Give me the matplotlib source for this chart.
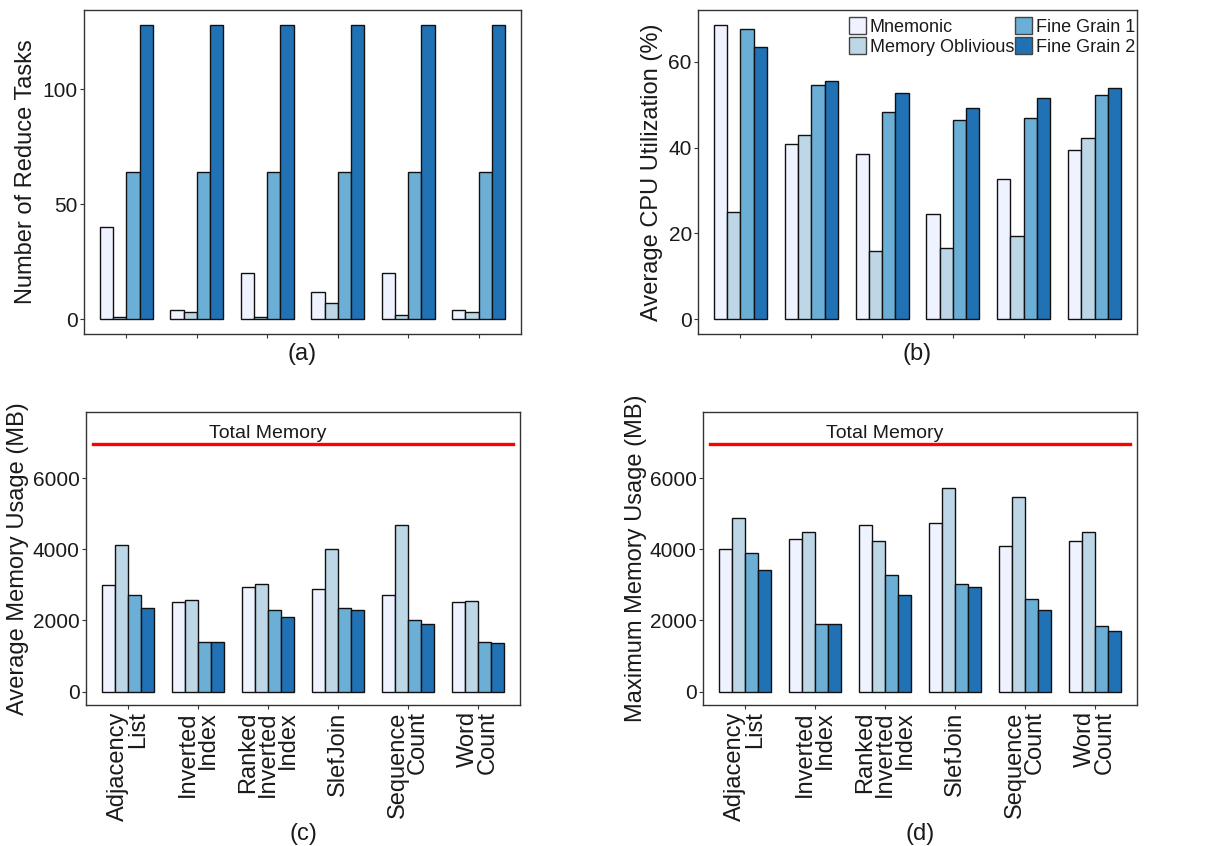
import matplotlib
matplotlib.use("Agg")
import matplotlib.pyplot as plt
import numpy as np

benchmarks = ["Adjacency\nList", "Inverted\nIndex", "Ranked\nInverted\nIndex",
              "SlefJoin", "Sequence\nCount", "Word\nCount"]
series = ["Mnemonic", "Memory Oblivious", "Fine Grain 1", "Fine Grain 2"]
colors = ["#EFF3FF", "#BDD7E7", "#6BAED6", "#2171B5"]

reduce_tasks = {
    "Mnemonic":         [40, 4, 20, 12, 20, 4],
    "Memory Oblivious": [1, 3, 1, 7, 2, 3],
    "Fine Grain 1":     [64, 64, 64, 64, 64, 64],
    "Fine Grain 2":     [128, 128, 128, 128, 128, 128],
}
cpu_util = {
    "Mnemonic":         [68.6, 40.9, 38.5, 24.6, 32.7, 39.4],
    "Memory Oblivious": [25.0, 42.9, 15.9, 16.6, 19.4, 42.3],
    "Fine Grain 1":     [67.6, 54.6, 48.3, 46.3, 46.9, 52.2],
    "Fine Grain 2":     [63.4, 55.4, 52.6, 49.1, 51.5, 53.9],
}
avg_mem = {
    "Mnemonic":         [3000, 2505, 2935, 2879, 2720, 2514],
    "Memory Oblivious": [4121, 2570, 3037, 4009, 4673, 2533],
    "Fine Grain 1":     [2701, 1383, 2290, 2346, 2000, 1393],
    "Fine Grain 2":     [2346, 1385, 2084, 2290, 1888, 1355],
}
max_mem = {
    "Mnemonic":         [4009, 4290, 4692, 4738, 4093, 4243],
    "Memory Oblivious": [4888, 4477, 4234, 5710, 5467, 4486],
    "Fine Grain 1":     [3897, 1888, 3290, 3028, 2589, 1850],
    "Fine Grain 2":     [3421, 1907, 2729, 2935, 2290, 1710],
}
total_memory = 6963

REG = ["Liberation Sans", "DejaVu Sans"]
plt.rcParams["font.family"] = REG

fig = plt.figure(figsize=(12.3, 8.46), dpi=100)
W, H = 1230, 846
def rect(l, t, r, b):
    return [l / W, (H - b) / H, (r - l) / W, (b - t) / H]

ax_a = fig.add_axes(rect(84, 10, 521, 334))
ax_b = fig.add_axes(rect(698, 10, 1137, 334))
ax_c = fig.add_axes(rect(86, 412, 520, 705))
ax_d = fig.add_axes(rect(703, 412, 1137, 705))

x = np.arange(1, len(benchmarks) + 1)
bw = 0.1875
offsets = (np.arange(4) - 1.5) * bw

def draw(ax, data, ylim, yticks, ylabel, xlabel, show_xlabels, ylab_x):
    handles = []
    for i, s in enumerate(series):
        h = ax.bar(x + offsets[i], data[s], width=bw, color=colors[i],
                   edgecolor="#111111", linewidth=1.0, label=s, zorder=2)
        handles.append(h)
    ax.set_xlim(0.4, 6.6)
    ax.set_ylim(*ylim)
    ax.set_yticks(yticks)
    ax.set_xticks(x)
    for sp in ax.spines.values():
        sp.set_color("#333333")
        sp.set_linewidth(1.0)
    ax.tick_params(axis="both", direction="out", length=3, width=0.8,
                   color="#333333", pad=1.5)
    ax.tick_params(axis="y", labelsize=15, labelcolor="#1a1a1a")
    if show_xlabels:
        ax.set_xticklabels(benchmarks, rotation=90, fontsize=17,
                           ha="center", va="top", multialignment="right",
                           linespacing=0.86, color="#1a1a1a")
    else:
        ax.set_xticklabels([])
    ax.set_ylabel(ylabel, fontsize=17, color="#1a1a1a")
    ax.yaxis.label.set_va("center")
    ax.yaxis.set_label_coords(ylab_x, 0.5)
    ax.set_xlabel(xlabel, fontsize=17, labelpad=2, color="#1a1a1a")
    return handles

draw(ax_a, reduce_tasks, (-6.4, 134.4), [0, 50, 100], "Number of Reduce Tasks", "(a)",
     False, (26 - 84) / 437)
hb = draw(ax_b, cpu_util, (-3.43, 72.03), [0, 20, 40, 60], "Average CPU Utilization (%)", "(b)",
          False, (652 - 698) / 439)
for ax, data, yl, lab, lx in [(ax_c, avg_mem, "Average Memory Usage (MB)", "(c)", (18 - 86) / 434),
                              (ax_d, max_mem, "Maximum Memory Usage (MB)", "(d)", (636 - 703) / 434)]:
    draw(ax, data, (-374, 7854), [0, 2000, 4000, 6000], yl, lab, True, lx)
    ax.plot([0.5, 6.5], [total_memory, total_memory], color="#FF0000", linewidth=2.4, zorder=3)
    ax.text(3, 7110, "Total Memory", ha="center", va="baseline", fontsize=14,
            color="#1a1a1a")

leg = fig.legend(handles=hb, labels=series, ncol=2, loc="upper left",
                 bbox_to_anchor=(849 / W, (H - 17) / H),
                 frameon=False, prop={"size": 13},
                 handlelength=0.95, handleheight=1.1, handletextpad=0.2,
                 columnspacing=0.05, labelspacing=0.05, borderpad=0, borderaxespad=0)
for p in leg.get_patches():
    p.set_edgecolor("#444444")
for t in leg.get_texts():
    t.set_color("#1a1a1a")

fig.savefig("out.png", dpi=100)
